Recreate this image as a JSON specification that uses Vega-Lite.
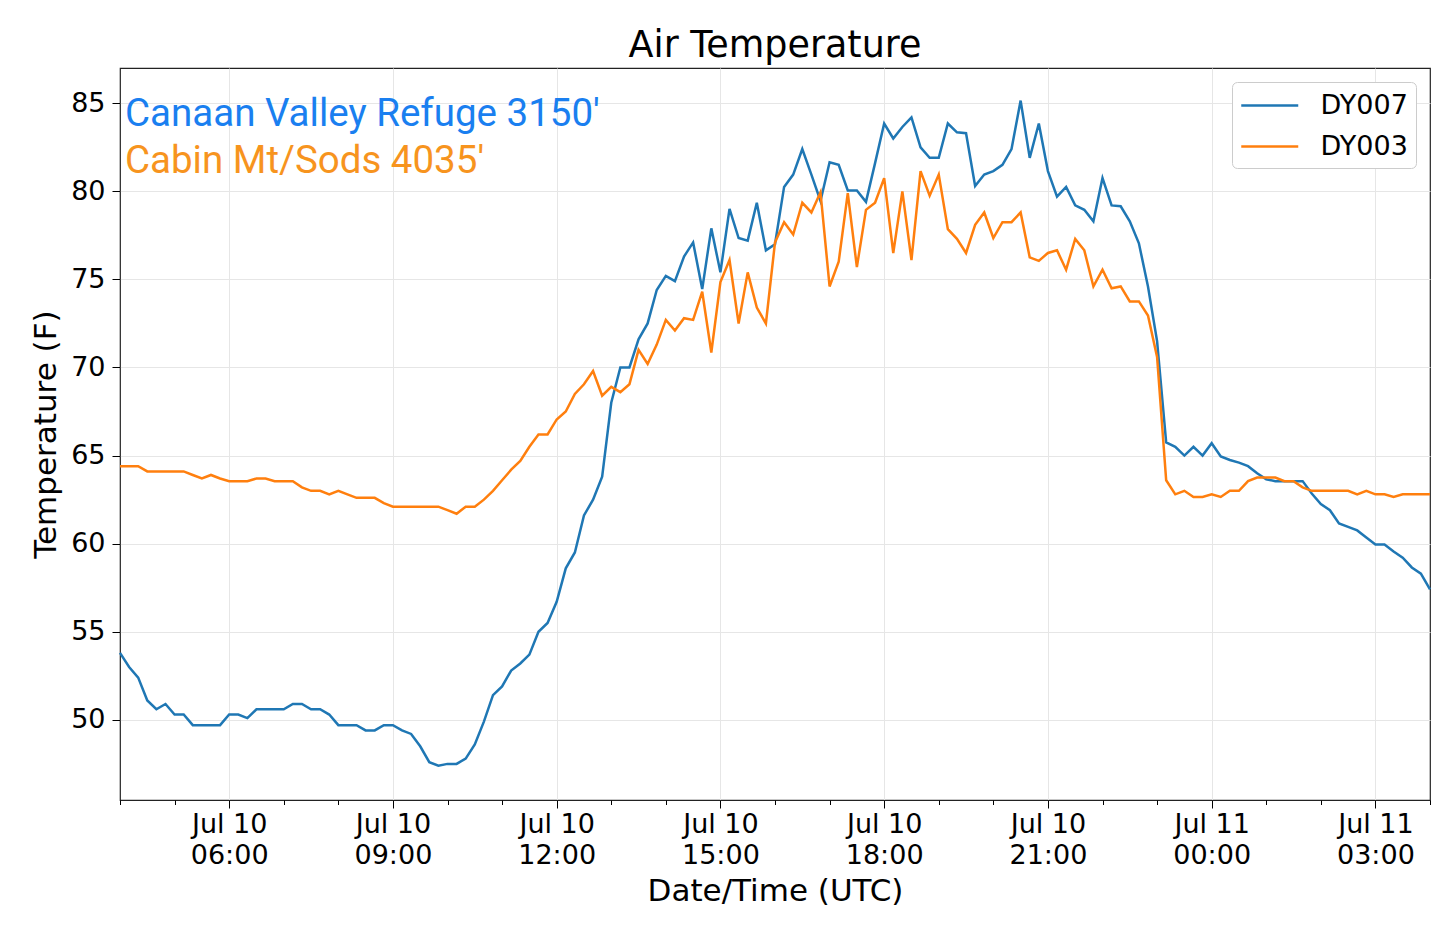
{
  "$schema": "https://vega.github.io/schema/vega-lite/v6.json",
  "width": 1310,
  "height": 732,
  "autosize": {"type": "none"},
  "padding": {"left": 120, "top": 68, "right": 10, "bottom": 126},
  "background": "white",
  "title": {"text": "Air Temperature", "font": "DejaVu Sans", "fontSize": 36.5, "fontWeight": "normal", "color": "black", "anchor": "middle", "offset": 4},
  "config": {
    "view": {"stroke": "#222222", "strokeWidth": 1.2},
    "axis": {"labelFont": "DejaVu Sans", "labelFontSize": 27, "labelColor": "black", "titleFont": "DejaVu Sans", "titleFontSize": 31, "titleFontWeight": "normal", "titleColor": "black", "tickColor": "black", "tickWidth": 1, "gridColor": "#e6e6e6", "gridWidth": 1, "domain": false},
    "legend": {"orient": "top-right", "offset": 14, "padding": 8, "rowPadding": 12, "strokeColor": "#cccccc", "fillColor": "white", "cornerRadius": 5, "symbolType": "M-1,0H3", "symbolSize": 812, "symbolStrokeWidth": 2.5, "labelFont": "DejaVu Sans", "labelFontSize": 27, "labelColor": "black", "labelOffset": 49.5}
  },
  "datasets": {
    "temps": [
      {"t": "2019-07-10T04:00:00Z", "DY007": 53.8, "DY003": 64.4},
      {"t": "2019-07-10T04:10:00Z", "DY007": 53.0, "DY003": 64.4},
      {"t": "2019-07-10T04:20:00Z", "DY007": 52.4, "DY003": 64.4},
      {"t": "2019-07-10T04:30:00Z", "DY007": 51.1, "DY003": 64.1},
      {"t": "2019-07-10T04:40:00Z", "DY007": 50.6, "DY003": 64.1},
      {"t": "2019-07-10T04:50:00Z", "DY007": 50.9, "DY003": 64.1},
      {"t": "2019-07-10T05:00:00Z", "DY007": 50.3, "DY003": 64.1},
      {"t": "2019-07-10T05:10:00Z", "DY007": 50.3, "DY003": 64.1},
      {"t": "2019-07-10T05:20:00Z", "DY007": 49.7, "DY003": 63.9},
      {"t": "2019-07-10T05:30:00Z", "DY007": 49.7, "DY003": 63.7},
      {"t": "2019-07-10T05:40:00Z", "DY007": 49.7, "DY003": 63.9},
      {"t": "2019-07-10T05:50:00Z", "DY007": 49.7, "DY003": 63.7},
      {"t": "2019-07-10T06:00:00Z", "DY007": 50.3, "DY003": 63.55},
      {"t": "2019-07-10T06:10:00Z", "DY007": 50.3, "DY003": 63.55},
      {"t": "2019-07-10T06:20:00Z", "DY007": 50.1, "DY003": 63.55},
      {"t": "2019-07-10T06:30:00Z", "DY007": 50.6, "DY003": 63.7},
      {"t": "2019-07-10T06:40:00Z", "DY007": 50.6, "DY003": 63.7},
      {"t": "2019-07-10T06:50:00Z", "DY007": 50.6, "DY003": 63.55},
      {"t": "2019-07-10T07:00:00Z", "DY007": 50.6, "DY003": 63.55},
      {"t": "2019-07-10T07:10:00Z", "DY007": 50.9, "DY003": 63.55},
      {"t": "2019-07-10T07:20:00Z", "DY007": 50.9, "DY003": 63.2},
      {"t": "2019-07-10T07:30:00Z", "DY007": 50.6, "DY003": 63.0},
      {"t": "2019-07-10T07:40:00Z", "DY007": 50.6, "DY003": 63.0},
      {"t": "2019-07-10T07:50:00Z", "DY007": 50.3, "DY003": 62.8},
      {"t": "2019-07-10T08:00:00Z", "DY007": 49.7, "DY003": 63.0},
      {"t": "2019-07-10T08:10:00Z", "DY007": 49.7, "DY003": 62.8},
      {"t": "2019-07-10T08:20:00Z", "DY007": 49.7, "DY003": 62.6},
      {"t": "2019-07-10T08:30:00Z", "DY007": 49.4, "DY003": 62.6},
      {"t": "2019-07-10T08:40:00Z", "DY007": 49.4, "DY003": 62.6},
      {"t": "2019-07-10T08:50:00Z", "DY007": 49.7, "DY003": 62.3},
      {"t": "2019-07-10T09:00:00Z", "DY007": 49.7, "DY003": 62.1},
      {"t": "2019-07-10T09:10:00Z", "DY007": 49.4, "DY003": 62.1},
      {"t": "2019-07-10T09:20:00Z", "DY007": 49.2, "DY003": 62.1},
      {"t": "2019-07-10T09:30:00Z", "DY007": 48.5, "DY003": 62.1},
      {"t": "2019-07-10T09:40:00Z", "DY007": 47.6, "DY003": 62.1},
      {"t": "2019-07-10T09:50:00Z", "DY007": 47.4, "DY003": 62.1},
      {"t": "2019-07-10T10:00:00Z", "DY007": 47.5, "DY003": 61.9},
      {"t": "2019-07-10T10:10:00Z", "DY007": 47.5, "DY003": 61.7},
      {"t": "2019-07-10T10:20:00Z", "DY007": 47.8, "DY003": 62.1},
      {"t": "2019-07-10T10:30:00Z", "DY007": 48.6, "DY003": 62.1},
      {"t": "2019-07-10T10:40:00Z", "DY007": 49.9, "DY003": 62.5},
      {"t": "2019-07-10T10:50:00Z", "DY007": 51.4, "DY003": 63.0},
      {"t": "2019-07-10T11:00:00Z", "DY007": 51.9, "DY003": 63.6},
      {"t": "2019-07-10T11:10:00Z", "DY007": 52.8, "DY003": 64.2},
      {"t": "2019-07-10T11:20:00Z", "DY007": 53.2, "DY003": 64.7},
      {"t": "2019-07-10T11:30:00Z", "DY007": 53.7, "DY003": 65.5},
      {"t": "2019-07-10T11:40:00Z", "DY007": 55.0, "DY003": 66.2},
      {"t": "2019-07-10T11:50:00Z", "DY007": 55.5, "DY003": 66.2},
      {"t": "2019-07-10T12:00:00Z", "DY007": 56.7, "DY003": 67.05},
      {"t": "2019-07-10T12:10:00Z", "DY007": 58.6, "DY003": 67.5},
      {"t": "2019-07-10T12:20:00Z", "DY007": 59.5, "DY003": 68.5},
      {"t": "2019-07-10T12:30:00Z", "DY007": 61.6, "DY003": 69.05},
      {"t": "2019-07-10T12:40:00Z", "DY007": 62.5, "DY003": 69.8},
      {"t": "2019-07-10T12:50:00Z", "DY007": 63.8, "DY003": 68.4},
      {"t": "2019-07-10T13:00:00Z", "DY007": 68.0, "DY003": 68.9},
      {"t": "2019-07-10T13:10:00Z", "DY007": 70.0, "DY003": 68.6},
      {"t": "2019-07-10T13:20:00Z", "DY007": 70.0, "DY003": 69.05},
      {"t": "2019-07-10T13:30:00Z", "DY007": 71.6, "DY003": 71.0},
      {"t": "2019-07-10T13:40:00Z", "DY007": 72.5, "DY003": 70.2},
      {"t": "2019-07-10T13:50:00Z", "DY007": 74.4, "DY003": 71.3},
      {"t": "2019-07-10T14:00:00Z", "DY007": 75.2, "DY003": 72.7},
      {"t": "2019-07-10T14:10:00Z", "DY007": 74.9, "DY003": 72.1},
      {"t": "2019-07-10T14:20:00Z", "DY007": 76.3, "DY003": 72.8},
      {"t": "2019-07-10T14:30:00Z", "DY007": 77.1, "DY003": 72.7},
      {"t": "2019-07-10T14:40:00Z", "DY007": 74.45, "DY003": 74.3},
      {"t": "2019-07-10T14:50:00Z", "DY007": 77.9, "DY003": 70.85},
      {"t": "2019-07-10T15:00:00Z", "DY007": 75.4, "DY003": 74.85},
      {"t": "2019-07-10T15:10:00Z", "DY007": 79.0, "DY003": 76.1},
      {"t": "2019-07-10T15:20:00Z", "DY007": 77.35, "DY003": 72.5},
      {"t": "2019-07-10T15:30:00Z", "DY007": 77.2, "DY003": 75.4},
      {"t": "2019-07-10T15:40:00Z", "DY007": 79.35, "DY003": 73.4},
      {"t": "2019-07-10T15:50:00Z", "DY007": 76.65, "DY003": 72.5},
      {"t": "2019-07-10T16:00:00Z", "DY007": 77.0, "DY003": 77.1},
      {"t": "2019-07-10T16:10:00Z", "DY007": 80.25, "DY003": 78.25},
      {"t": "2019-07-10T16:20:00Z", "DY007": 80.95, "DY003": 77.55},
      {"t": "2019-07-10T16:30:00Z", "DY007": 82.4, "DY003": 79.35},
      {"t": "2019-07-10T16:40:00Z", "DY007": 80.95, "DY003": 78.8},
      {"t": "2019-07-10T16:50:00Z", "DY007": 79.45, "DY003": 79.95},
      {"t": "2019-07-10T17:00:00Z", "DY007": 81.65, "DY003": 74.6},
      {"t": "2019-07-10T17:10:00Z", "DY007": 81.5, "DY003": 76.0},
      {"t": "2019-07-10T17:20:00Z", "DY007": 80.05, "DY003": 79.9},
      {"t": "2019-07-10T17:30:00Z", "DY007": 80.05, "DY003": 75.7},
      {"t": "2019-07-10T17:40:00Z", "DY007": 79.4, "DY003": 78.95},
      {"t": "2019-07-10T17:50:00Z", "DY007": 81.6, "DY003": 79.35},
      {"t": "2019-07-10T18:00:00Z", "DY007": 83.85, "DY003": 80.75},
      {"t": "2019-07-10T18:10:00Z", "DY007": 83.0, "DY003": 76.5},
      {"t": "2019-07-10T18:20:00Z", "DY007": 83.65, "DY003": 80.0},
      {"t": "2019-07-10T18:30:00Z", "DY007": 84.2, "DY003": 76.1},
      {"t": "2019-07-10T18:40:00Z", "DY007": 82.5, "DY003": 81.15},
      {"t": "2019-07-10T18:50:00Z", "DY007": 81.9, "DY003": 79.75},
      {"t": "2019-07-10T19:00:00Z", "DY007": 81.9, "DY003": 80.95},
      {"t": "2019-07-10T19:10:00Z", "DY007": 83.85, "DY003": 77.85},
      {"t": "2019-07-10T19:20:00Z", "DY007": 83.35, "DY003": 77.3},
      {"t": "2019-07-10T19:30:00Z", "DY007": 83.3, "DY003": 76.5},
      {"t": "2019-07-10T19:40:00Z", "DY007": 80.3, "DY003": 78.1},
      {"t": "2019-07-10T19:50:00Z", "DY007": 80.95, "DY003": 78.8},
      {"t": "2019-07-10T20:00:00Z", "DY007": 81.15, "DY003": 77.35},
      {"t": "2019-07-10T20:10:00Z", "DY007": 81.5, "DY003": 78.25},
      {"t": "2019-07-10T20:20:00Z", "DY007": 82.4, "DY003": 78.25},
      {"t": "2019-07-10T20:30:00Z", "DY007": 85.15, "DY003": 78.8},
      {"t": "2019-07-10T20:40:00Z", "DY007": 81.9, "DY003": 76.25},
      {"t": "2019-07-10T20:50:00Z", "DY007": 83.85, "DY003": 76.05},
      {"t": "2019-07-10T21:00:00Z", "DY007": 81.15, "DY003": 76.5},
      {"t": "2019-07-10T21:10:00Z", "DY007": 79.7, "DY003": 76.65},
      {"t": "2019-07-10T21:20:00Z", "DY007": 80.25, "DY003": 75.55},
      {"t": "2019-07-10T21:30:00Z", "DY007": 79.2, "DY003": 77.3},
      {"t": "2019-07-10T21:40:00Z", "DY007": 78.95, "DY003": 76.65},
      {"t": "2019-07-10T21:50:00Z", "DY007": 78.3, "DY003": 74.6},
      {"t": "2019-07-10T22:00:00Z", "DY007": 80.75, "DY003": 75.55},
      {"t": "2019-07-10T22:10:00Z", "DY007": 79.2, "DY003": 74.5},
      {"t": "2019-07-10T22:20:00Z", "DY007": 79.15, "DY003": 74.6},
      {"t": "2019-07-10T22:30:00Z", "DY007": 78.3, "DY003": 73.75},
      {"t": "2019-07-10T22:40:00Z", "DY007": 77.05, "DY003": 73.75},
      {"t": "2019-07-10T22:50:00Z", "DY007": 74.6, "DY003": 72.95},
      {"t": "2019-07-10T23:00:00Z", "DY007": 71.5, "DY003": 70.6},
      {"t": "2019-07-10T23:10:00Z", "DY007": 65.75, "DY003": 63.6},
      {"t": "2019-07-10T23:20:00Z", "DY007": 65.5, "DY003": 62.8},
      {"t": "2019-07-10T23:30:00Z", "DY007": 65.0, "DY003": 63.0},
      {"t": "2019-07-10T23:40:00Z", "DY007": 65.5, "DY003": 62.65},
      {"t": "2019-07-10T23:50:00Z", "DY007": 65.0, "DY003": 62.65},
      {"t": "2019-07-11T00:00:00Z", "DY007": 65.7, "DY003": 62.8},
      {"t": "2019-07-11T00:10:00Z", "DY007": 64.95, "DY003": 62.65},
      {"t": "2019-07-11T00:20:00Z", "DY007": 64.75, "DY003": 63.0},
      {"t": "2019-07-11T00:30:00Z", "DY007": 64.6, "DY003": 63.0},
      {"t": "2019-07-11T00:40:00Z", "DY007": 64.4, "DY003": 63.55},
      {"t": "2019-07-11T00:50:00Z", "DY007": 64.0, "DY003": 63.75},
      {"t": "2019-07-11T01:00:00Z", "DY007": 63.65, "DY003": 63.75},
      {"t": "2019-07-11T01:10:00Z", "DY007": 63.55, "DY003": 63.75},
      {"t": "2019-07-11T01:20:00Z", "DY007": 63.55, "DY003": 63.55},
      {"t": "2019-07-11T01:30:00Z", "DY007": 63.55, "DY003": 63.55},
      {"t": "2019-07-11T01:40:00Z", "DY007": 63.55, "DY003": 63.2},
      {"t": "2019-07-11T01:50:00Z", "DY007": 62.85, "DY003": 63.0},
      {"t": "2019-07-11T02:00:00Z", "DY007": 62.25, "DY003": 63.0},
      {"t": "2019-07-11T02:10:00Z", "DY007": 61.9, "DY003": 63.0},
      {"t": "2019-07-11T02:20:00Z", "DY007": 61.15, "DY003": 63.0},
      {"t": "2019-07-11T02:30:00Z", "DY007": 60.95, "DY003": 63.0},
      {"t": "2019-07-11T02:40:00Z", "DY007": 60.75, "DY003": 62.8},
      {"t": "2019-07-11T02:50:00Z", "DY007": 60.35, "DY003": 63.0},
      {"t": "2019-07-11T03:00:00Z", "DY007": 59.95, "DY003": 62.8},
      {"t": "2019-07-11T03:10:00Z", "DY007": 59.95, "DY003": 62.8},
      {"t": "2019-07-11T03:20:00Z", "DY007": 59.55, "DY003": 62.65},
      {"t": "2019-07-11T03:30:00Z", "DY007": 59.2, "DY003": 62.8},
      {"t": "2019-07-11T03:40:00Z", "DY007": 58.65, "DY003": 62.8},
      {"t": "2019-07-11T03:50:00Z", "DY007": 58.3, "DY003": 62.8},
      {"t": "2019-07-11T04:00:00Z", "DY007": 57.4, "DY003": 62.8}
    ],
    "notes": [
      {"note": "Canaan Valley Refuge 3150'", "station": "DY007", "t": "2019-07-10T04:00:00Z", "temp": 83.7},
      {"note": "Cabin Mt/Sods 4035'", "station": "DY003", "t": "2019-07-10T04:00:00Z", "temp": 81.03}
    ]
  },
  "layer": [
    {
      "data": {"name": "temps"},
      "transform": [{"fold": ["DY007", "DY003"], "as": ["station", "temp"]}],
      "mark": {"type": "line", "strokeWidth": 2.5},
      "encoding": {
        "x": {
          "field": "t", "type": "temporal",
          "scale": {"type": "utc", "domain": [1562731200000, 1562817600000]},
          "axis": {"title": "Date/Time (UTC)", "orient": "bottom", "values": [1562738400000, 1562749200000, 1562760000000, 1562770800000, 1562781600000, 1562792400000, 1562803200000, 1562814000000], "labelExpr": "[utcFormat(datum.value, '%b %d'), utcFormat(datum.value, '%H:%M')]", "labelAlign": "center", "labelBaseline": "top", "labelLineHeight": 31, "labelPadding": 3, "tickSize": 8, "labelFlush": false, "labelOverlap": false, "titlePadding": 8}
        },
        "y": {
          "field": "temp", "type": "quantitative",
          "scale": {"domain": [45.45, 87], "nice": false, "zero": false},
          "axis": {"title": "Temperature (F)", "values": [50, 55, 60, 65, 70, 75, 80, 85], "tickSize": 8, "labelPadding": 7, "titlePadding": 8}
        },
        "color": {
          "field": "station", "type": "nominal",
          "scale": {"domain": ["DY007", "DY003"], "range": ["#1f77b4", "#ff7f0e"]},
          "legend": {"title": null}
        }
      }
    },
    {
      "data": {"name": "notes"},
      "transform": [{"filter": "datum.station == 'DY007'"}],
      "mark": {"type": "text", "align": "left", "baseline": "alphabetic", "font": "Roboto", "fontSize": 38.5, "color": "#1a7ff0", "dx": 5},
      "encoding": {
        "x": {"field": "t", "type": "temporal",
              "axis": {"orient": "bottom", "title": null, "labels": false, "grid": false, "domain": false, "ticks": true, "tickSize": 4.5,
                       "values": [1562731200000, 1562734800000, 1562738400000, 1562742000000, 1562745600000, 1562749200000, 1562752800000, 1562756400000, 1562760000000, 1562763600000, 1562767200000, 1562770800000, 1562774400000, 1562778000000, 1562781600000, 1562785200000, 1562788800000, 1562792400000, 1562796000000, 1562799600000, 1562803200000, 1562806800000, 1562810400000, 1562814000000, 1562817600000]}},
        "y": {"field": "temp", "type": "quantitative"},
        "text": {"field": "note"}
      }
    },
    {
      "data": {"name": "notes"},
      "transform": [{"filter": "datum.station == 'DY003'"}],
      "mark": {"type": "text", "align": "left", "baseline": "alphabetic", "font": "Roboto", "fontSize": 38.5, "color": "#f7941e", "dx": 5},
      "encoding": {
        "x": {"field": "t", "type": "temporal", "axis": null},
        "y": {"field": "temp", "type": "quantitative"},
        "text": {"field": "note"}
      }
    }
  ],
  "resolve": {"axis": {"x": "independent"}}
}
